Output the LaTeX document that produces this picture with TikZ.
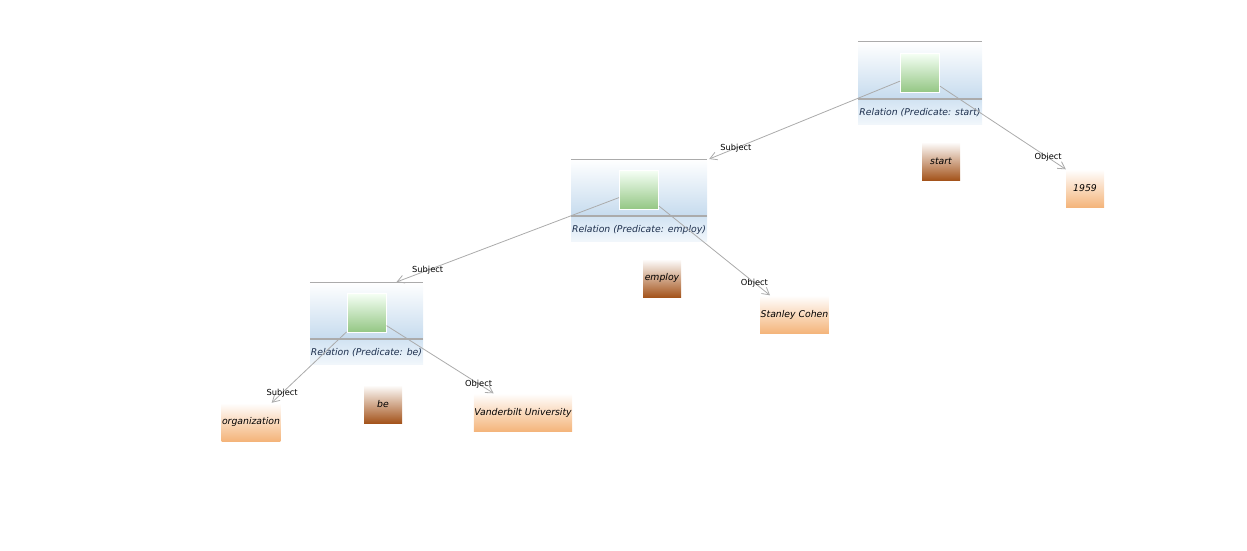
\documentclass[tikz,border=0pt]{standalone}
\usepackage{fontspec}
\setmainfont{DejaVu Sans}
\usepackage{xcolor}
\usepackage{tikz}
\usetikzlibrary{positioning, arrows.meta, calc}

\definecolor{linegray}{HTML}{ABABAB}
\definecolor{relblue}{HTML}{C6DBEE}
\definecolor{labblue}{HTML}{D3E4F3}
\definecolor{headgreen}{HTML}{93C683}
\definecolor{predbrown}{HTML}{A4541C}
\definecolor{argorange}{HTML}{F4B47A}
\definecolor{reltext}{HTML}{1D2F4D}

\newcommand{\relfont}{\fontsize{9.3}{11}\selectfont\itshape}
\newcommand{\edgefont}{\fontsize{8.3}{10}\selectfont}

\tikzset{
    relbox/.style={shade, top color=white, bottom color=relblue, minimum height=57, inner sep=0},
    rellabel/.style={shade, top color=labblue, bottom color=labblue!30, minimum height=24, inner sep=0, text=reltext, font=\relfont},
    headbox/.style={shade, top color=green!4!white, bottom color=headgreen, draw=white, line width=1pt, minimum width=39, minimum height=39, inner sep=0},
    predbox/.style={shade, top color=white, bottom color=predbrown, minimum width=38, minimum height=38, inner sep=0.5pt, font=\relfont},
    argbox/.style={shade, top color=white, bottom color=argorange, minimum width=38, minimum height=38, inner sep=0.5pt, font=\relfont},
    frameline/.style={draw=linegray, line width=1pt},
    arc/.style={draw=linegray, line width=0.8pt, -{Straight Barb[length=7pt, width=8pt]}},
    edgelab/.style={pos=0.86, font=\edgefont}
}

\begin{document}
\begin{tikzpicture}[x=1pt, y=-1pt]
    \useasboundingbox (0,0) rectangle (1247,551);

    % relation frames
    \node[relbox, minimum width=124, anchor=north] (relStart) at (920,42) {};
    \node[relbox, minimum width=136, anchor=north] (relEmploy) at (639,159) {};
    \node[relbox, minimum width=113, anchor=north] (relBe) at (366.5,282) {};

    \node[rellabel, minimum width=124, below=1pt of relStart] (labStart) {Relation (Predicate: start)};
    \node[rellabel, minimum width=136, below=1pt of relEmploy] (labEmploy) {Relation (Predicate: employ)};
    \node[rellabel, minimum width=113, below=1pt of relBe] (labBe) {Relation (Predicate: be)};

    \foreach \r in {Start, Employ, Be} {
        \draw[frameline] (rel\r.north west) -- (rel\r.north east);
        \draw[frameline, line width=2pt] (rel\r.south west) -- (rel\r.south east);
        \node[headbox, below=11pt of rel\r.north] (head\r) {};
    }

    % predicates and arguments
    \node[predbox] (predStart) at (941,161) {start};
    \node[argbox] (argYear) at (1085,188.5) {1959};
    \node[predbox] (predEmploy) at (662,278) {employ};
    \node[argbox] (argCohen) at (794.5,314.5) {Stanley Cohen};
    \node[predbox] (predBe) at (383,404) {be};
    \node[argbox] (argOrg) at (251,422) {organization};
    \node[argbox] (argVU) at (523,412.5) {Vanderbilt University};

    % arcs
    \draw[arc] (headStart) -- node[edgelab] {Subject} ($(relEmploy.north east)+(2,0)$);
    \draw[arc] (headStart) -- node[edgelab] {Object} (argYear.north west);
    \draw[arc] (headEmploy) -- node[edgelab] {Subject} ($(relBe.north)+(30,0)$);
    \draw[arc] (headEmploy) -- node[edgelab] {Object} ($(argCohen.north west)+(10,0)$);
    \draw[arc] (headBe) -- node[edgelab] {Subject} ($(argOrg.north east)+(-9,0)$);
    \draw[arc] (headBe) -- node[edgelab] {Object} ($(argVU.north west)+(20,0)$);
\end{tikzpicture}
\end{document}
